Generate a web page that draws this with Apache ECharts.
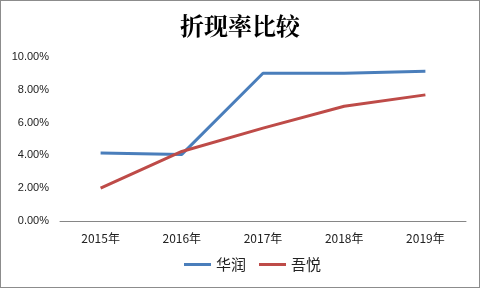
<!DOCTYPE html>
<html><head><meta charset="utf-8">
<script src="https://cdn.jsdelivr.net/npm/echarts@6/dist/echarts.min.js"></script>
<style>html,body{margin:0;padding:0;background:#fff}#c{width:480px;height:288px;box-sizing:border-box;border:1px solid #8c8c8c}</style>
</head><body><div id="c"></div>
<script>
const categories = ['2015年','2016年','2017年','2018年','2019年'];
const huarun = [4.15, 4.06, 9.01, 9.01, 9.13];
const wuyue = [2.0, 4.24, 5.66, 7.0, 7.69];
const seriesNames = ['华润','吾悦'];
const chart = echarts.init(document.getElementById('c'));
chart.setOption({
  animation:false,
  title:{text:'折现率比较',left:'center',top:8,textStyle:{fontFamily:'Noto Serif CJK SC, Noto Sans CJK SC',fontSize:24,fontWeight:'bold',color:'#000'}},
  grid:{left:59,right:13,top:56,bottom:66},
  legend:{bottom:10,left:178,itemWidth:27,itemHeight:3,itemGap:13,icon:'rect',textStyle:{fontFamily:'Noto Sans CJK SC',fontSize:15,color:'#222'},data:seriesNames},
  xAxis:{type:'category',data:categories,boundaryGap:true,axisLine:{lineStyle:{color:'#868686'}},axisTick:{show:false},axisLabel:{color:'#222',fontSize:12,fontFamily:'Noto Sans CJK SC',margin:11}},
  yAxis:{type:'value',min:0,max:10,interval:2,splitLine:{show:false},axisLine:{show:false},axisTick:{show:false},axisLabel:{color:'#222',fontSize:11,fontFamily:'Liberation Sans',margin:11,formatter:v=>v.toFixed(2)+'%'}},
  series:[
    {name:seriesNames[0],type:'line',data:huarun,symbol:'none',lineStyle:{width:3,color:'#4a7ebb'},itemStyle:{color:'#4a7ebb'}},
    {name:seriesNames[1],type:'line',data:wuyue,symbol:'none',lineStyle:{width:3,color:'#be4b48'},itemStyle:{color:'#be4b48'}}
  ]
});
</script></body></html>
